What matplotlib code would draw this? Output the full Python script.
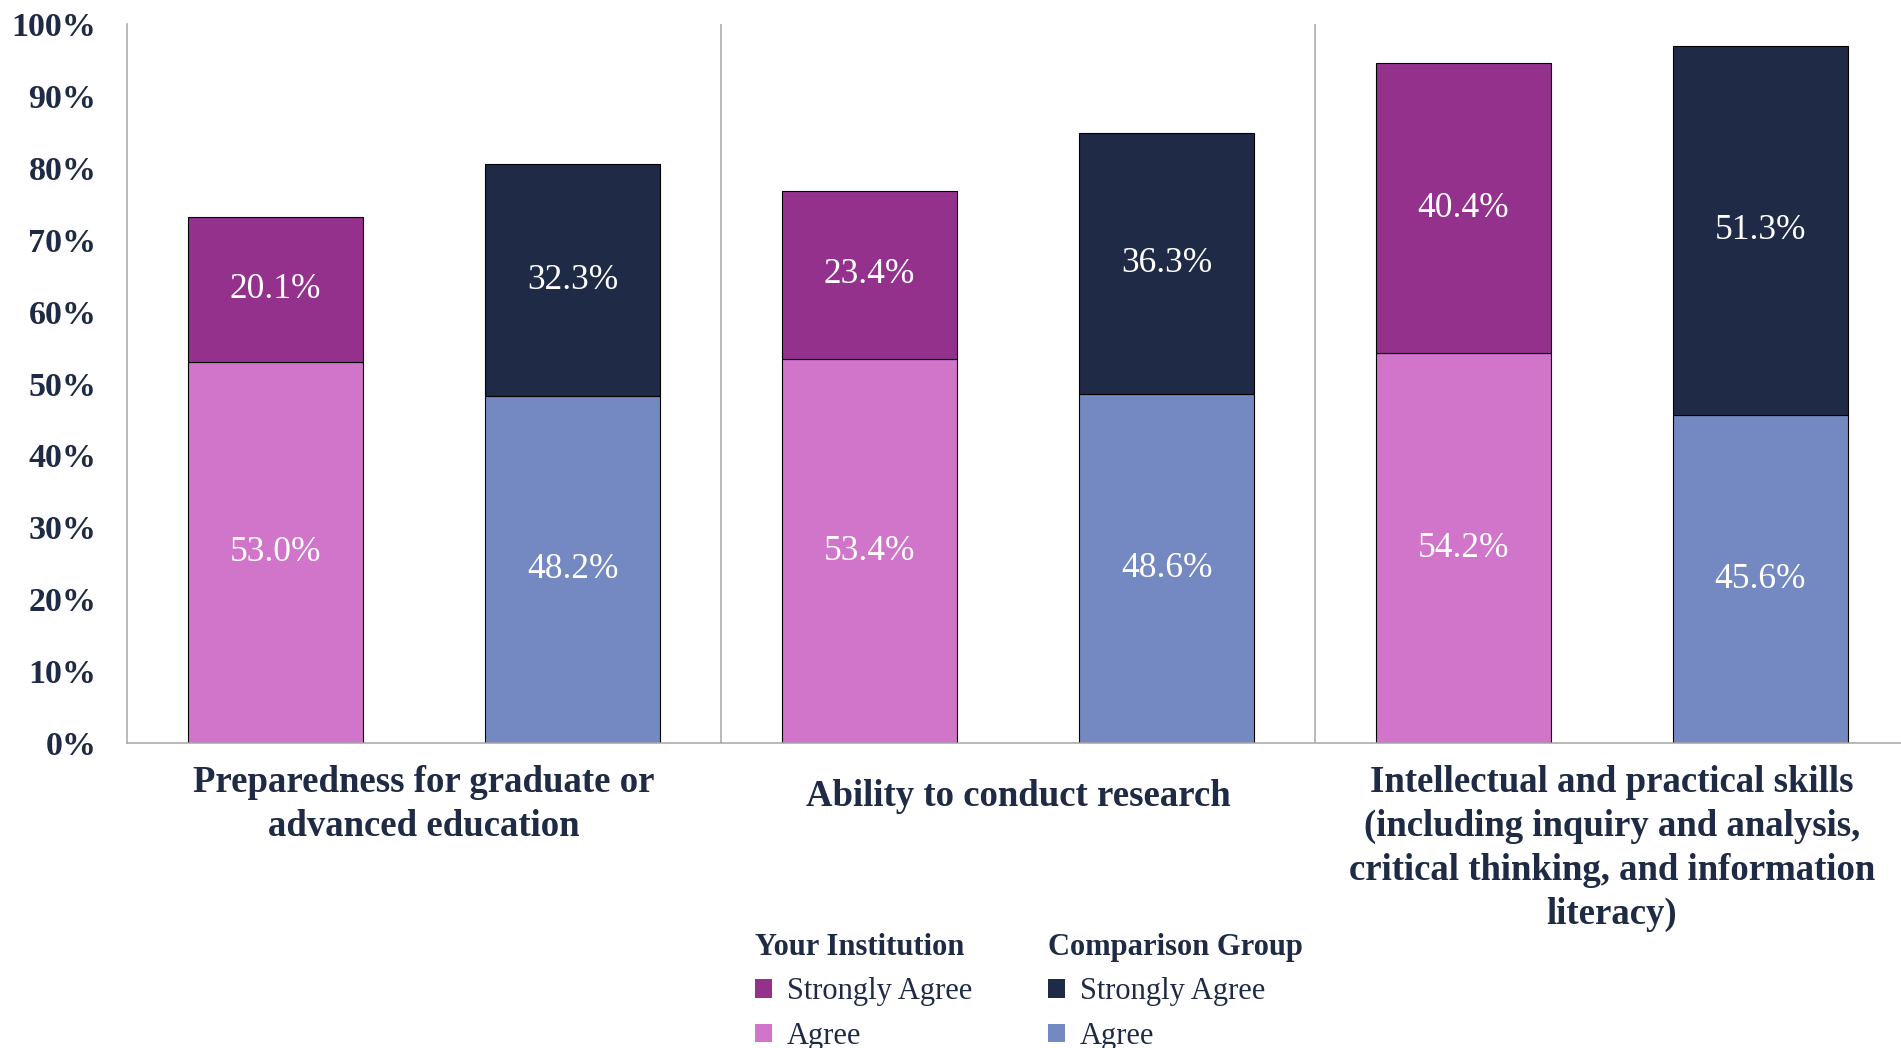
import matplotlib
matplotlib.use("Agg")
import matplotlib.pyplot as plt
import matplotlib.patches as mpatches
import matplotlib.transforms as mtransforms
import numpy as np

# values (percent)
categories = ["Preparedness for graduate or\nadvanced education",
              "Ability to conduct research",
              "Intellectual and practical skills\n(including inquiry and analysis,\ncritical thinking, and information\nliteracy)"]
inst_agree = [53.0, 53.4, 54.2]
inst_strong = [20.1, 23.4, 40.4]
comp_agree = [48.2, 48.6, 45.6]
comp_strong = [32.3, 36.3, 51.3]
yticks = [0, 10, 20, 30, 40, 50, 60, 70, 80, 90, 100]

navy = "#1F2A44"
c_inst_strong = "#93318D"
c_inst_agree = "#D075C9"
c_comp_strong = "#1F2A46"
c_comp_agree = "#7489C1"
grid_gray = "#A6A6A6"

plt.rcParams['font.family'] = ['Liberation Serif', 'DejaVu Serif']

fig = plt.figure(figsize=(19.01, 10.48), dpi=100)
ax = fig.add_axes([127/1901, 1 - 743/1048, (1909 - 127)/1901, (743 - 24)/1048])

x = np.arange(len(categories))
w = 0.294
off = 0.25

b1 = ax.bar(x - off, inst_agree, w, color=c_inst_agree, edgecolor="black", linewidth=0.8)
b2 = ax.bar(x - off, inst_strong, w, bottom=inst_agree, color=c_inst_strong, edgecolor="black", linewidth=0.8)
b3 = ax.bar(x + off, comp_agree, w, color=c_comp_agree, edgecolor="black", linewidth=0.8)
b4 = ax.bar(x + off, comp_strong, w, bottom=comp_agree, color=c_comp_strong, edgecolor="black", linewidth=0.8)

for cont, vals in [(b1, inst_agree), (b2, inst_strong), (b3, comp_agree), (b4, comp_strong)]:
    ax.bar_label(cont, labels=[f"{v:.1f}%" for v in vals], label_type="center",
                 color="white", fontsize=25.5)

ax.set_xlim(-0.5, 2.5)
ax.set_ylim(0, 100)
ax.set_yticks(yticks)
ax.set_yticklabels([f"{t}%" for t in yticks], fontsize=24.5, fontweight="bold", color=navy)
ax.tick_params(axis="y", length=0, pad=22)
ax.set_xticks(x)
ax.set_xticklabels(categories, fontsize=26.5, fontweight="bold", color=navy, linespacing=1.33)
ax.tick_params(axis="x", length=0, pad=16)
# single-line label sits a little lower in the original
lab = ax.get_xticklabels()[1]
lab.set_transform(lab.get_transform() + mtransforms.ScaledTranslation(0, -14/100, fig.dpi_scale_trans))

for s in ["top", "right"]:
    ax.spines[s].set_visible(False)
for s in ["left", "bottom"]:
    ax.spines[s].set_color(grid_gray)
    ax.spines[s].set_linewidth(1.1)
for xv in [0.5, 1.5]:
    ax.axvline(xv, color=grid_gray, linewidth=1.1)

leg_kw = dict(loc="upper left", frameon=False, fontsize=22, handlelength=0.55, handleheight=0.55,
              handletextpad=0.5, labelspacing=0.5, borderpad=0, borderaxespad=0,
              alignment="left", title_fontproperties={"weight": "bold", "size": 22})
h1 = [mpatches.Patch(facecolor=c_inst_strong), mpatches.Patch(facecolor=c_inst_agree)]
h2 = [mpatches.Patch(facecolor=c_comp_strong), mpatches.Patch(facecolor=c_comp_agree)]
leg1 = fig.legend(h1, ["Strongly Agree", "Agree"], title="Your Institution",
                  bbox_to_anchor=(755/1901, 1 - 933/1048), **leg_kw)
leg2 = fig.legend(h2, ["Strongly Agree", "Agree"], title="Comparison Group",
                  bbox_to_anchor=(1048/1901, 1 - 933/1048), **leg_kw)
for leg in (leg1, leg2):
    leg.get_title().set_color(navy)
    for t in leg.get_texts():
        t.set_color(navy)

fig.savefig("out.png", dpi=100)
